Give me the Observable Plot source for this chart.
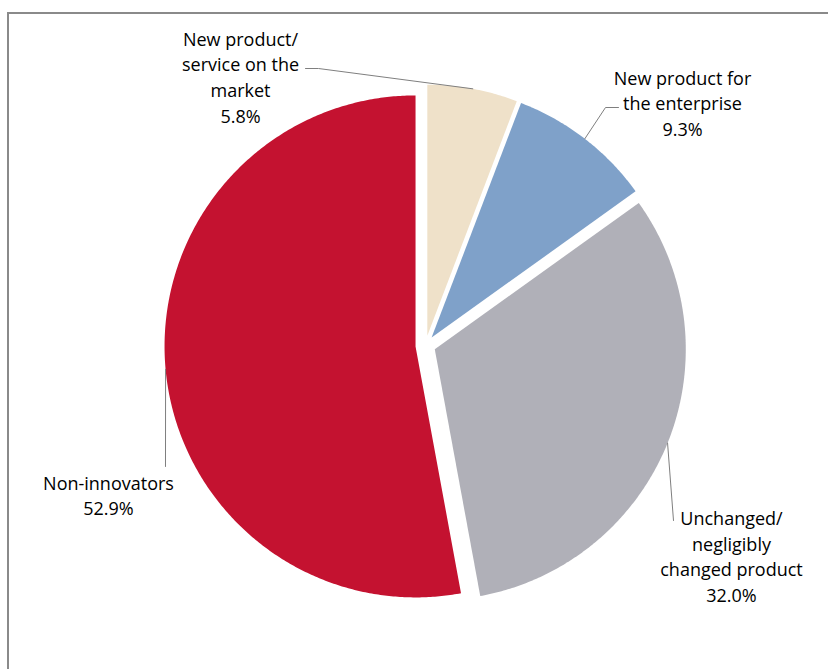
<!DOCTYPE html>
<html><head><meta charset="utf-8">
<script src="https://cdn.jsdelivr.net/npm/d3@7"></script>
<script src="https://cdn.jsdelivr.net/npm/@observablehq/plot@0.6"></script>
<style>
body{margin:0;background:#fff;overflow:hidden;}
#wrap{position:relative;width:828px;height:669px;overflow:hidden;}
#chart{position:absolute;left:0;top:0;}
#frame{position:absolute;left:7px;top:12px;width:1000px;height:1000px;border-left:2px solid #8a8a8a;border-top:2px solid #8a8a8a;pointer-events:none;}
</style></head><body>
<div id="wrap"><div id="chart"></div><div id="frame"></div></div>
<script>
// ---- data ----
const categories = ["New product/service on the market", "New product for the enterprise", "Unchanged/negligibly changed product", "Non-innovators"];
const values = [5.8, 9.3, 32.0, 52.9];
const labelNames = ["New product/\nservice on the\nmarket", "New product for\nthe enterprise", "Unchanged/\nnegligibly\nchanged product", "Non-innovators"];
const colors = ["#EFE1C9", "#7FA1C9", "#B0B0B8", "#C41230"];

// ---- layout ----
const W = 828, H = 669, cx = 425, cy = 345, R = 251, explode = 10;
const labelPos = [[240, 75.5], [682, 101.5], [731, 555], [108, 494]];
const leaderEnds = [[[318, 68], [305, 68]], [[605, 107], [618, 107]], [[673, 520]], [[165, 466]]];

const arcs = d3.pie().sort(null).value(d => d)(values);
const slicePts = [];
const leaderPts = [];
const labelData = [];
arcs.forEach((a, i) => {
  const mid = (a.startAngle + a.endAngle) / 2;
  const ox = cx + explode * Math.sin(mid), oy = cy - explode * Math.cos(mid);
  const cat = categories[i];
  slicePts.push({cat, x: ox, y: oy});
  const n = Math.max(2, Math.ceil((a.endAngle - a.startAngle) / (Math.PI / 360)));
  for (let k = 0; k <= n; k++) {
    const t = a.startAngle + (a.endAngle - a.startAngle) * k / n;
    slicePts.push({cat, x: ox + R * Math.sin(t), y: oy - R * Math.cos(t)});
  }
  slicePts.push({cat, x: ox, y: oy});
  leaderPts.push({cat, x: ox + R * Math.sin(mid), y: oy - R * Math.cos(mid)});
  leaderEnds[i].forEach(p => leaderPts.push({cat, x: p[0], y: p[1]}));
  labelData.push({cat, x: labelPos[i][0], y: labelPos[i][1], text: labelNames[i] + "\n" + values[i].toFixed(1) + "%"});
});

const chart = Plot.plot({
  width: W, height: H,
  margin: 0,
  x: {domain: [0, W], range: [0, W], axis: null},
  y: {domain: [0, H], range: [0, H], axis: null},
  color: {domain: categories, range: colors},
  style: {background: "transparent"},
  marks: [
    Plot.line(slicePts, {x: "x", y: "y", z: "cat", fill: "cat", stroke: "none", curve: "linear"}),
    Plot.line(leaderPts, {x: "x", y: "y", z: "cat", stroke: "#7f7f7f", strokeWidth: 1}),
    Plot.text(labelData, {x: "x", y: "y", text: "text", fontSize: 18, lineHeight: 1.42, fill: "#000", fontFamily: "'Open Sans', sans-serif"})
  ]
});
document.getElementById("chart").appendChild(chart);
</script>
</body></html>
